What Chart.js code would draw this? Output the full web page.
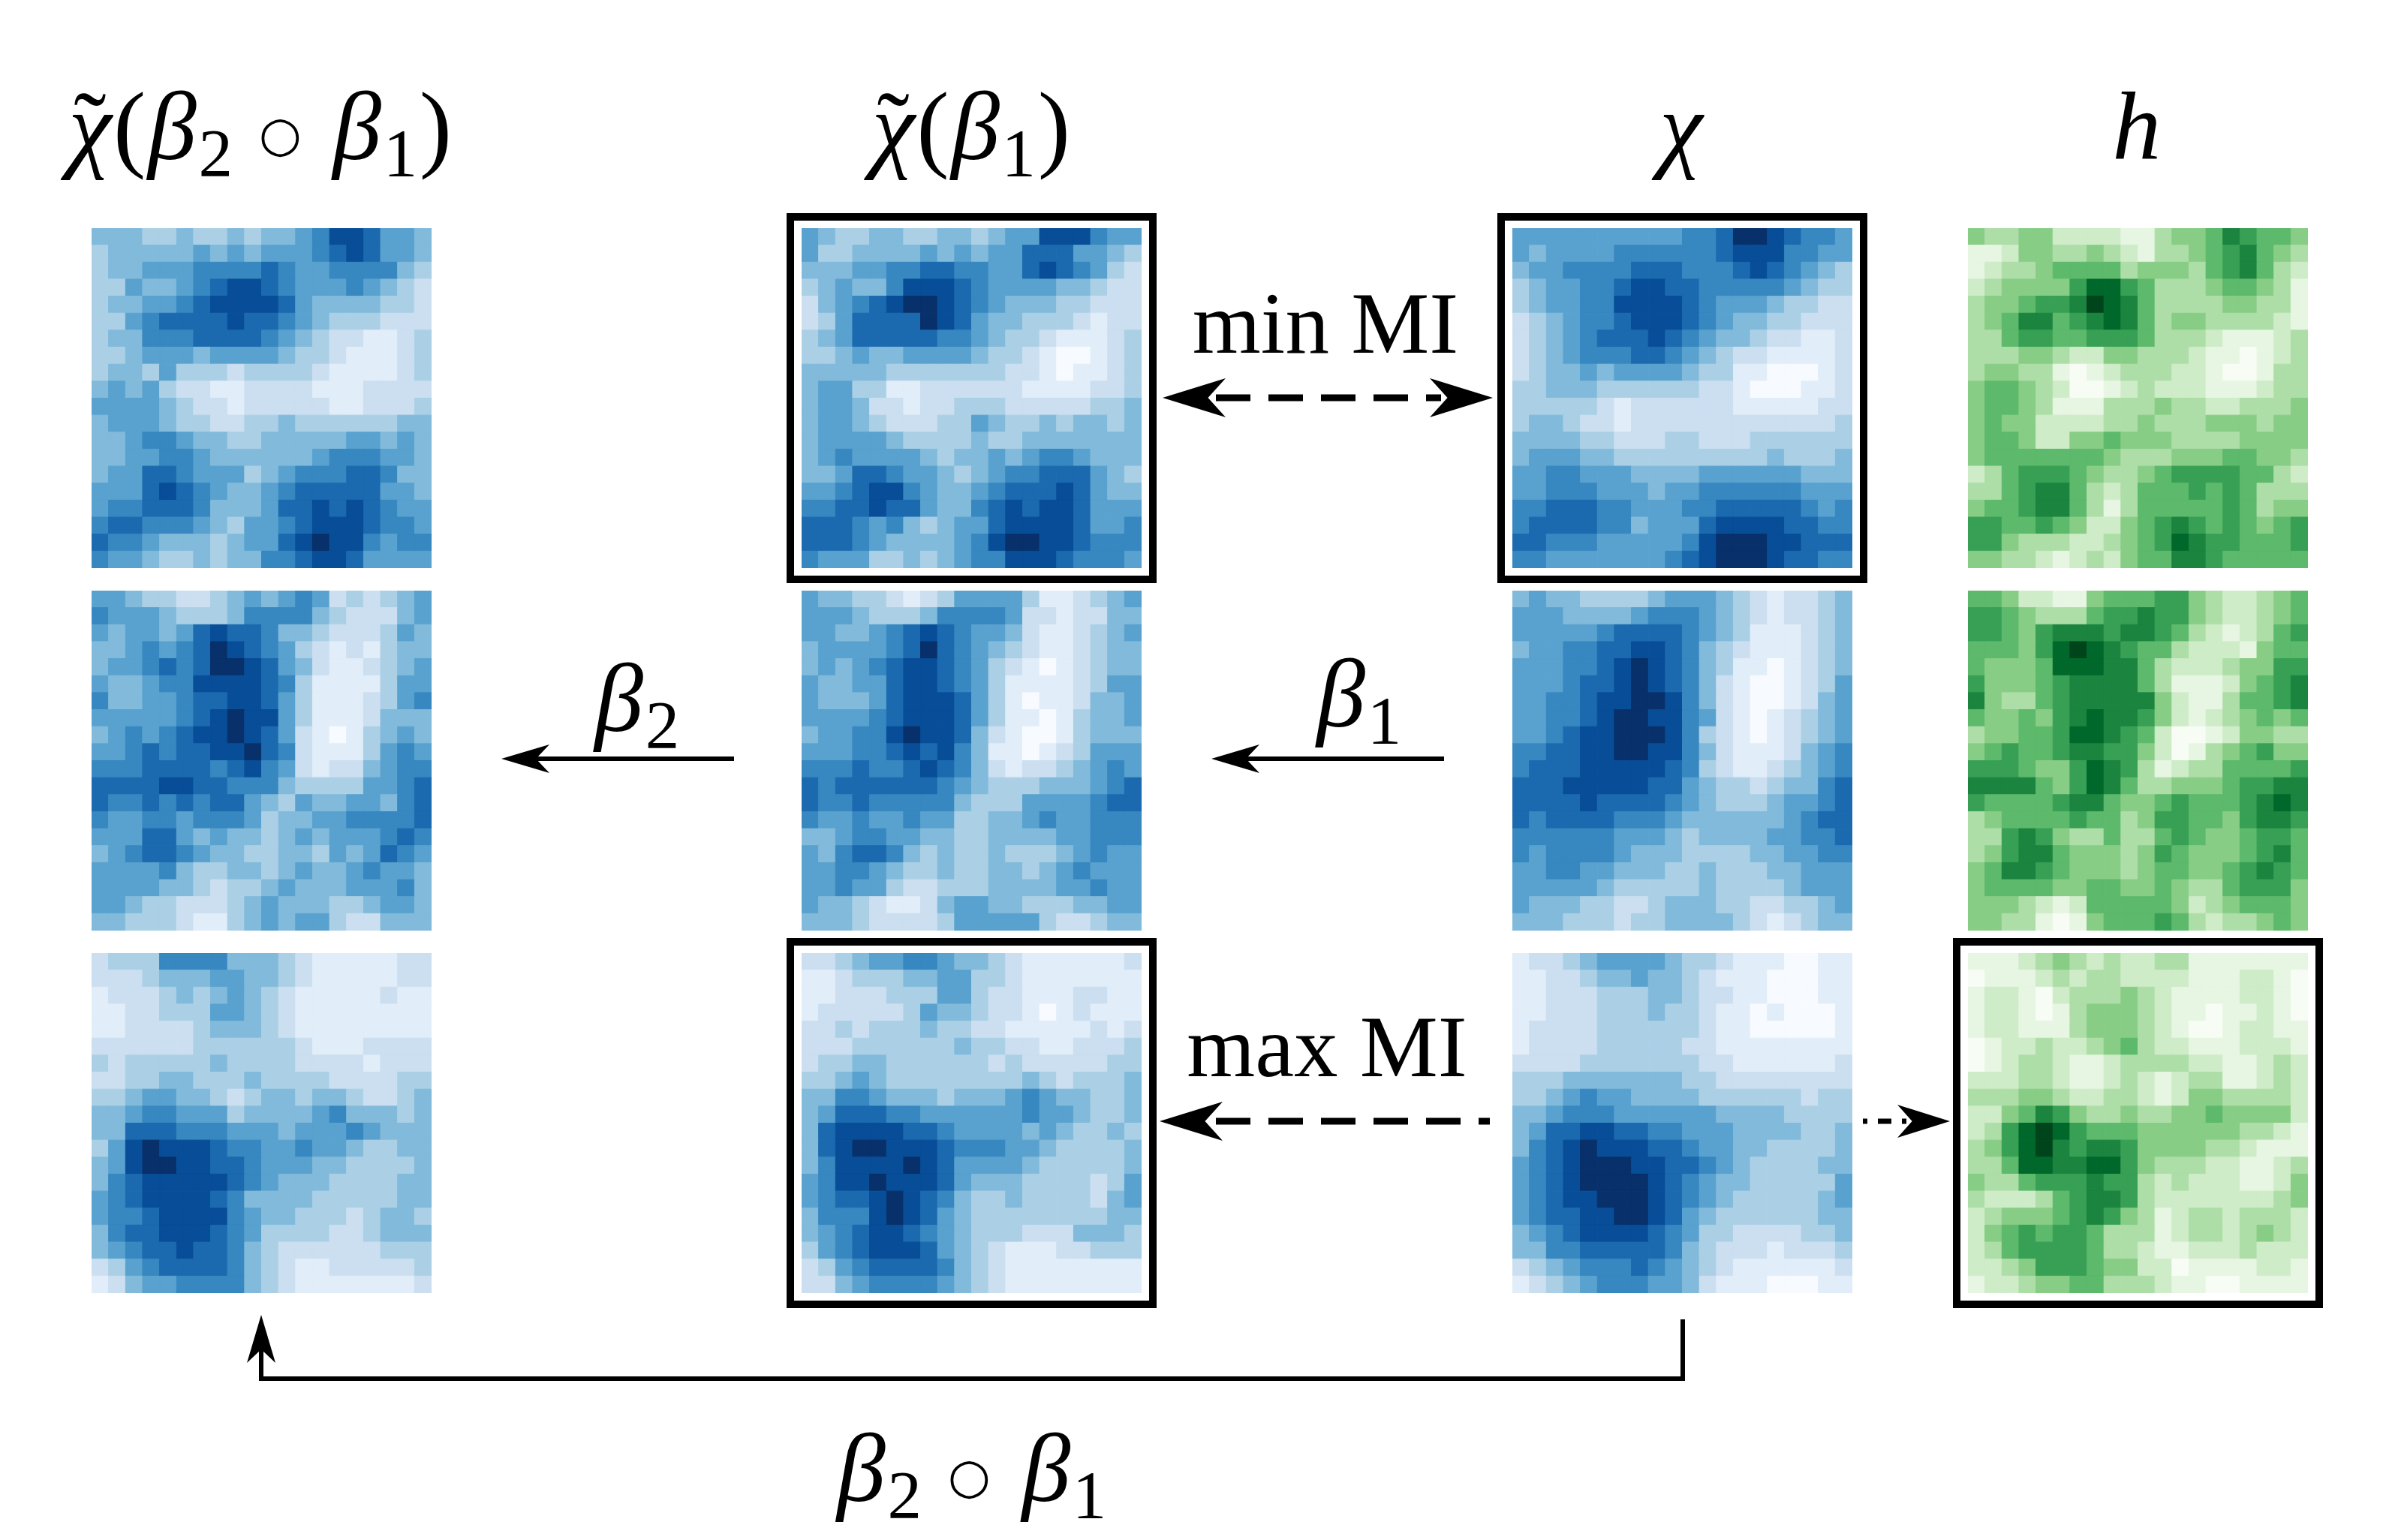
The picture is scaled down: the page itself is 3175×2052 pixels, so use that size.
<!DOCTYPE html>
<html>
<head>
<meta charset="utf-8">
<script src="https://cdn.jsdelivr.net/npm/chart.js@4/dist/chart.umd.min.js"></script>
<style>
  html, body { margin: 0; padding: 0; background: #fff; }
  #page { position: relative; width: 3175px; height: 2052px; overflow: hidden; background: #fff; }
  canvas { position: absolute; }
  .frame { position: absolute; box-sizing: border-box; border: 10px solid #000; width: 493px; height: 493px; }
  svg { position: absolute; left: 0; top: 0; }
  .label { position: absolute; transform: translateX(-50%); white-space: nowrap; line-height: 1; color: #000;
    font-family: "Liberation Serif", serif; font-size: 130px; letter-spacing: 0.02em; }
  .label i { font-style: italic; }
  .label sub { font-size: 0.7em; vertical-align: -0.25em; line-height: 0; font-style: normal; }
  .mi { font-size: 117px; letter-spacing: 0; }
  .tl { position: relative; display: inline-block; }
  .tl b { position: absolute; left: 0; right: 0; text-align: center; font-weight: normal; }
  .ring { font-family: "DejaVu Sans", sans-serif; font-size: 0.5em; vertical-align: 0.17em; margin: 0 0.6em 0 0.5em; }
</style>
</head>
<body>
<div id="page"></div>
<script>
// colour levels, 0 lightest to 9 darkest,
// on a 20x20 grid (the original panels are 40x40, so this is a coarser reading)
const gridSize = 20;

const chi2Top = [
[4,4,4,3,3,4,3,3,4,3,4,4,5,6,8,8,7,5,5,4],
[3,4,4,4,4,4,5,4,5,4,5,5,5,6,7,8,7,5,5,4],
[3,4,4,5,5,5,6,6,6,6,7,6,5,5,6,6,6,6,4,3],
[3,3,5,4,4,5,6,7,8,8,7,6,5,5,5,6,5,4,3,2],
[3,4,4,5,5,6,7,8,8,8,8,7,5,4,4,4,4,3,3,2],
[3,3,5,6,7,7,7,7,8,7,7,6,5,4,3,3,3,2,2,2],
[3,4,4,6,6,6,7,7,7,7,6,5,4,3,2,2,1,1,2,3],
[3,3,4,5,5,5,4,5,5,5,5,4,3,3,2,1,1,1,2,3],
[3,4,4,3,5,3,3,3,2,3,3,3,3,2,1,1,1,1,2,3],
[4,5,4,5,3,2,2,1,1,2,2,2,2,1,1,1,2,2,2,2],
[5,5,5,5,4,3,2,2,1,2,2,2,2,2,1,1,2,2,2,3],
[4,5,5,5,4,3,3,2,2,3,3,4,3,3,3,3,3,3,4,4],
[4,4,5,6,6,5,4,4,3,3,4,4,4,4,4,5,5,4,5,4],
[4,4,5,5,6,6,5,4,4,4,4,4,4,5,6,6,6,5,5,4],
[4,5,5,7,7,6,5,5,5,3,4,5,6,6,6,7,7,6,4,4],
[5,5,5,7,8,7,6,5,4,4,5,6,7,7,7,7,7,5,5,4],
[5,6,6,7,7,7,6,4,4,4,5,7,7,8,7,8,7,6,5,5],
[6,7,7,6,6,6,5,4,3,5,5,6,7,8,8,8,7,6,6,5],
[7,6,6,5,4,4,4,3,4,5,5,7,8,9,8,8,6,5,6,6],
[6,5,5,4,3,3,4,3,4,4,6,6,7,8,8,7,5,5,5,5]
];
const chi1Top = [
[5,4,3,3,4,4,3,3,4,4,3,4,5,5,8,8,8,6,5,5],
[5,3,3,4,4,4,4,5,4,5,4,5,5,7,7,7,5,5,4,3],
[4,4,4,5,5,6,6,7,7,6,6,5,5,7,8,7,6,5,3,2],
[3,4,5,4,4,6,8,8,8,7,6,5,5,5,5,4,4,3,2,2],
[2,4,5,6,7,8,9,9,8,7,6,5,4,4,4,3,3,2,2,2],
[2,3,5,7,7,7,7,9,8,7,5,4,4,3,3,3,2,1,2,2],
[3,4,5,7,7,7,7,7,6,6,5,4,3,3,2,1,1,1,2,3],
[3,3,4,5,4,4,5,5,5,5,4,3,3,2,1,0,0,1,2,3],
[4,4,4,4,4,3,3,3,3,3,3,3,2,2,1,0,1,1,2,3],
[4,5,5,3,3,1,1,2,2,2,2,2,2,1,1,1,1,2,2,3],
[4,5,5,4,2,2,1,2,2,3,3,3,2,2,2,2,2,3,3,4],
[4,5,5,4,3,2,2,2,3,3,5,4,3,3,4,3,4,4,3,4],
[4,5,5,5,5,4,3,3,3,3,4,3,3,4,4,4,4,4,4,4],
[4,5,6,5,5,5,5,4,3,4,4,5,4,5,6,6,5,4,4,4],
[4,4,5,7,7,6,5,5,4,3,4,5,6,6,7,7,7,5,4,3],
[5,5,6,7,8,8,6,5,4,4,5,6,7,7,7,8,7,5,4,4],
[6,6,7,7,8,7,7,5,4,4,6,7,8,7,8,8,7,5,5,5],
[7,7,7,6,5,6,4,3,4,5,5,7,8,8,8,8,7,5,5,6],
[7,7,7,6,5,4,4,4,4,5,6,8,9,9,8,8,7,6,6,6],
[6,5,5,5,3,3,4,3,4,5,6,6,8,8,8,7,6,6,6,5]
];
const chiTop = [
[5,5,5,5,5,5,5,5,5,5,6,6,7,9,9,8,7,6,6,5],
[5,4,5,5,5,5,6,6,6,6,6,6,7,8,8,8,6,6,5,5],
[4,5,5,6,6,6,6,7,7,7,6,6,6,7,8,7,6,5,4,3],
[3,4,5,5,6,6,7,8,8,7,7,6,6,6,6,6,5,4,3,3],
[3,4,5,5,6,6,8,8,8,8,7,6,5,5,5,4,3,3,2,2],
[2,3,4,5,6,6,7,8,8,8,7,6,5,4,4,3,3,2,2,2],
[2,3,4,5,6,7,7,7,8,7,6,5,4,4,3,2,2,1,1,2],
[2,3,4,5,6,6,6,7,7,6,5,4,3,2,2,1,1,1,1,2],
[2,3,4,4,5,4,5,5,5,5,4,3,3,1,1,0,0,0,1,2],
[3,3,4,4,4,3,3,3,3,3,3,2,2,1,0,0,0,1,1,2],
[3,3,3,3,3,2,1,2,2,2,2,2,2,1,1,1,1,1,2,2],
[3,4,4,3,2,2,1,2,2,2,2,2,2,2,2,2,2,2,2,3],
[4,4,4,4,3,3,2,2,2,3,3,2,2,2,3,3,3,3,3,3],
[4,5,5,5,4,4,3,3,3,3,3,3,3,3,3,4,3,3,3,4],
[5,5,6,6,5,5,5,4,4,4,4,5,5,5,5,5,5,4,4,4],
[5,5,6,6,6,5,5,5,4,5,5,6,6,6,6,6,6,5,5,5],
[6,6,7,7,7,6,6,5,5,5,6,6,7,7,7,7,7,6,5,6],
[6,7,7,7,7,6,6,4,5,5,5,7,8,8,8,8,7,7,6,6],
[7,7,6,6,6,5,5,5,5,5,6,8,9,9,9,8,8,7,7,7],
[6,6,5,5,5,5,5,5,5,6,7,8,9,9,9,8,7,7,6,6]
];
const hTop = [
[4,3,3,4,4,2,2,2,2,1,1,3,4,4,5,7,6,5,5,4],
[1,1,2,4,4,3,3,4,3,2,1,3,3,4,5,6,7,5,4,3],
[1,2,3,3,4,5,5,5,5,3,4,4,4,3,5,6,7,5,3,2],
[2,3,4,4,4,4,6,8,8,6,5,3,3,3,4,5,5,4,3,1],
[3,4,4,5,6,6,7,9,8,7,5,3,3,3,3,4,4,3,3,1],
[3,4,5,7,7,5,6,7,8,7,5,3,4,4,3,3,3,3,2,1],
[3,3,5,6,6,5,5,6,6,6,5,3,3,3,2,1,1,1,2,3],
[3,3,3,4,4,3,2,2,4,4,3,3,3,2,1,1,0,1,2,3],
[3,4,4,3,3,1,0,1,2,3,3,3,2,2,1,0,0,1,3,3],
[4,5,5,4,3,2,0,0,1,2,3,2,2,2,1,1,1,2,3,3],
[4,5,5,4,3,1,1,1,3,3,3,4,3,3,2,2,3,3,3,4],
[4,5,4,4,2,2,2,2,3,3,4,3,3,3,4,4,4,3,4,4],
[4,5,5,4,2,2,4,4,5,4,4,4,3,3,3,3,4,4,4,4],
[4,5,5,5,5,5,5,5,4,3,3,3,4,4,4,5,5,4,4,3],
[2,3,5,6,6,6,5,4,3,3,4,5,6,6,6,6,5,5,3,2],
[3,3,5,6,7,7,5,3,2,3,5,5,5,6,5,6,5,3,3,3],
[4,5,5,6,7,7,5,3,1,3,5,5,5,5,5,6,5,3,4,4],
[6,6,5,5,6,5,4,2,2,4,5,6,7,6,5,6,5,4,5,6],
[6,6,4,3,3,3,2,2,3,4,5,6,8,7,6,6,5,5,5,6],
[4,4,3,3,2,1,2,3,2,4,5,5,7,7,6,5,5,5,5,5]
];
const chi2Mid = [
[5,5,4,3,3,2,2,3,4,5,4,5,6,5,2,3,2,3,4,5],
[6,5,5,5,4,3,3,3,4,6,6,6,6,4,3,2,2,2,4,5],
[5,4,5,5,4,5,7,8,7,7,6,4,4,3,2,2,2,3,5,4],
[4,4,5,6,5,6,7,9,8,7,6,5,3,2,1,2,1,3,4,4],
[4,5,5,6,7,6,7,9,9,8,7,5,4,2,1,1,2,3,4,5],
[5,4,4,5,6,6,8,8,8,8,7,6,3,1,1,1,1,3,5,5],
[6,4,4,5,5,6,7,7,8,8,7,5,3,1,1,1,2,3,5,6],
[5,5,5,5,5,6,7,8,9,8,8,5,3,1,1,1,2,4,4,4],
[4,5,6,5,6,7,8,8,9,8,7,5,2,1,0,1,3,4,5,4],
[5,5,6,7,6,7,7,8,8,9,7,6,2,1,1,1,3,5,6,5],
[6,6,6,7,7,7,7,6,7,8,6,5,2,1,2,2,4,5,6,6],
[7,7,7,7,8,8,7,7,6,6,6,4,3,3,3,3,5,5,6,7],
[7,6,6,7,6,7,6,7,7,5,4,3,5,4,4,5,5,4,6,7],
[6,5,5,6,6,5,6,6,6,5,3,4,4,5,5,6,6,6,6,7],
[5,5,5,7,7,5,4,5,4,4,3,4,5,4,5,5,5,6,7,6],
[4,5,6,7,7,6,5,4,4,3,3,4,4,3,5,4,5,7,6,5],
[5,5,5,5,6,4,3,3,4,4,3,4,5,4,4,5,6,5,5,4],
[5,5,5,5,4,4,3,2,3,3,4,5,4,4,4,5,5,5,6,4],
[5,5,4,3,3,2,2,2,3,4,5,4,4,4,3,3,4,5,5,4],
[4,4,3,3,3,2,1,1,3,4,5,4,5,5,3,2,2,4,4,4]
];
const chi1Mid = [
[5,4,4,3,3,2,1,2,3,5,5,5,5,3,1,1,2,3,4,5],
[5,5,5,4,3,3,3,4,6,6,6,6,5,2,2,1,2,2,4,4],
[5,5,4,4,5,6,7,8,7,6,5,5,4,2,1,1,2,3,4,5],
[4,5,5,5,5,6,7,9,7,6,5,4,3,2,1,1,2,3,4,4],
[4,5,4,5,6,7,8,8,7,6,5,3,2,1,0,1,2,3,4,4],
[5,4,4,5,5,7,8,8,7,6,5,3,1,1,1,1,2,3,5,5],
[5,4,4,4,5,7,8,8,8,7,5,3,1,0,1,1,2,4,4,5],
[5,5,5,5,6,7,8,8,8,7,5,3,1,1,0,1,3,4,4,5],
[4,5,5,6,6,8,9,8,8,7,4,2,1,0,0,1,3,4,4,4],
[5,5,5,6,6,7,8,7,8,6,4,1,1,0,1,2,3,5,5,5],
[6,6,6,7,6,6,7,8,7,6,4,2,1,2,2,3,4,5,6,5],
[7,6,7,7,7,7,7,7,6,5,4,3,3,3,4,4,4,5,6,7],
[7,6,6,7,6,6,6,6,6,4,3,3,3,5,5,5,5,6,7,7],
[6,5,5,6,5,5,6,5,5,3,3,4,4,5,6,5,5,6,6,6],
[4,4,5,6,6,5,5,4,4,3,3,4,4,4,4,5,5,6,6,6],
[5,4,6,7,7,6,4,3,4,3,3,4,3,3,3,4,5,6,5,5],
[5,5,6,6,5,4,3,3,4,3,3,4,4,3,4,5,6,5,5,5],
[5,5,6,5,5,3,2,2,3,3,3,4,4,4,4,5,5,6,5,5],
[5,4,4,3,2,1,1,2,4,5,5,4,4,3,3,3,4,4,5,5],
[4,4,4,3,2,2,2,2,3,5,5,5,5,5,3,2,2,3,4,4]
];
const chiMid = [
[4,5,4,4,3,3,3,3,4,5,5,5,4,3,2,1,2,2,3,4],
[5,5,5,4,4,4,4,5,6,6,6,5,4,3,2,1,2,2,3,4],
[5,5,5,5,5,6,7,7,7,7,6,5,4,3,1,1,1,2,3,4],
[4,5,5,6,6,7,7,8,8,7,6,4,3,2,1,1,1,2,3,4],
[5,5,5,6,6,7,8,9,8,7,6,4,3,1,1,0,1,2,3,4],
[5,5,5,6,7,7,8,9,8,7,6,4,2,1,0,0,1,2,3,5],
[5,5,6,6,7,8,8,9,9,8,6,4,2,1,0,0,1,2,4,5],
[5,5,6,6,7,8,9,9,8,8,6,5,2,1,0,1,2,3,4,5],
[5,5,6,7,8,8,9,9,9,8,6,3,2,1,0,1,2,3,4,5],
[6,6,7,7,8,8,9,9,8,8,6,4,2,1,1,1,2,4,5,6],
[6,7,7,7,8,8,8,8,8,7,6,3,2,1,1,2,3,4,5,6],
[7,7,7,8,8,8,8,8,7,7,5,4,3,3,2,3,4,4,6,7],
[7,7,7,7,8,7,7,7,7,6,5,4,3,3,3,4,5,5,6,7],
[7,6,7,7,7,7,6,6,6,5,4,4,4,4,4,4,5,6,7,7],
[6,6,6,6,6,6,5,5,5,4,3,4,4,4,4,5,5,6,6,7],
[6,5,6,6,6,6,5,4,4,4,3,3,3,3,4,4,5,5,6,6],
[5,5,6,6,5,5,4,4,4,3,3,4,3,3,3,4,4,5,5,5],
[5,5,5,5,5,4,3,3,3,3,3,4,3,3,3,3,4,5,5,5],
[5,4,4,4,3,3,2,2,3,4,4,4,3,3,2,2,3,3,4,5],
[4,4,4,3,3,3,2,3,3,4,4,4,4,3,2,1,2,3,4,4]
];
const hMid = [
[5,5,4,2,2,1,1,4,5,5,5,6,6,4,3,2,2,3,4,5],
[6,6,5,4,3,3,3,5,6,6,7,6,6,4,3,2,2,3,4,5],
[6,6,5,4,6,7,7,7,6,7,7,6,5,3,2,1,2,3,5,6],
[5,5,5,4,6,8,9,8,7,6,5,5,3,2,2,2,1,4,5,5],
[5,4,4,4,5,8,8,8,7,7,5,3,2,2,2,3,4,4,6,6],
[6,4,4,4,5,6,7,7,7,7,5,3,1,1,1,2,4,5,6,7],
[7,4,3,3,5,6,7,7,7,7,7,4,2,1,1,3,5,5,6,7],
[5,4,4,5,4,6,7,8,7,7,6,4,2,1,2,3,4,5,4,5],
[3,4,4,5,5,6,8,8,7,6,5,2,0,0,1,2,4,4,3,3],
[4,5,6,5,5,6,7,7,6,6,4,2,0,1,3,4,5,6,4,4],
[6,6,6,5,4,4,6,8,7,6,3,1,2,3,3,5,5,5,5,6],
[7,7,7,7,5,4,6,8,7,5,3,3,4,4,4,5,6,6,7,7],
[6,5,5,5,5,6,7,7,5,4,4,5,6,5,5,5,6,7,8,7],
[3,4,5,5,5,5,6,5,5,3,4,6,6,5,5,4,6,7,7,6],
[3,3,6,7,6,4,3,3,5,3,3,5,6,5,4,4,5,6,6,5],
[3,4,6,7,7,5,4,4,4,3,4,6,5,4,4,4,5,6,7,5],
[4,5,7,7,6,5,4,4,4,3,4,5,5,4,4,5,6,7,6,5],
[4,5,5,5,5,4,4,5,5,4,4,5,4,3,3,5,6,6,6,4],
[4,4,4,3,2,1,2,5,5,5,5,5,4,2,3,4,5,5,5,4],
[4,4,3,3,1,0,1,4,5,5,5,6,5,3,2,3,3,4,5,4]
];
const chi2Low = [
[2,3,3,3,6,6,6,6,4,4,4,3,2,1,1,1,1,1,2,2],
[2,2,2,3,4,4,4,5,5,4,4,3,2,1,1,1,1,1,2,2],
[1,2,2,2,3,4,3,4,5,4,3,2,1,1,1,1,1,2,1,1],
[1,1,2,2,3,3,3,5,5,4,3,2,1,1,1,1,1,1,1,1],
[1,1,2,2,2,2,3,4,4,4,3,2,1,1,1,1,1,1,1,1],
[2,2,2,2,2,2,3,3,3,3,3,3,2,1,1,1,2,2,2,2],
[3,2,3,3,3,3,3,4,3,3,3,3,2,2,2,2,1,2,2,2],
[2,2,3,3,4,4,3,3,3,4,3,3,3,3,2,2,2,2,3,3],
[3,3,4,5,5,4,4,3,2,3,4,4,3,4,4,3,2,2,3,4],
[4,4,5,6,6,5,5,5,3,4,4,4,4,5,6,4,4,4,3,4],
[4,4,7,7,7,6,6,6,5,5,5,4,5,5,5,6,5,4,4,4],
[3,5,8,9,8,8,8,7,6,6,5,5,6,5,5,4,3,3,4,4],
[4,5,8,9,9,8,8,7,7,6,5,5,5,4,4,3,3,3,3,4],
[4,6,7,8,8,8,8,8,7,6,5,4,4,4,3,3,3,3,4,4],
[5,6,7,8,8,8,8,7,6,4,4,4,4,3,3,3,3,3,4,4],
[5,6,6,7,8,8,8,8,6,5,4,4,3,3,3,2,3,4,4,3],
[4,6,7,7,8,8,8,7,6,5,3,3,3,3,2,2,3,4,4,4],
[4,5,6,7,7,8,7,7,6,4,3,2,2,2,2,2,2,3,3,3],
[2,3,5,6,7,7,7,7,6,4,3,2,1,1,2,2,2,2,2,3],
[1,2,4,5,5,6,6,6,6,4,3,2,1,1,1,1,1,1,1,2]
];
const chi1Low = [
[2,2,3,4,5,5,6,6,5,4,4,3,2,1,1,1,1,1,1,2],
[1,1,2,3,3,3,4,4,5,5,3,3,2,1,1,1,1,1,1,1],
[1,1,2,2,2,3,3,3,5,5,3,2,2,1,1,1,2,2,1,1],
[1,2,2,2,2,2,3,5,4,4,3,2,2,1,0,1,2,1,1,1],
[2,2,3,2,3,3,3,4,3,3,2,2,1,1,1,1,1,2,1,2],
[2,2,2,3,3,3,3,3,3,4,3,3,2,2,1,1,2,2,2,3],
[2,3,3,4,4,3,3,3,3,3,3,2,3,2,2,2,2,2,3,3],
[3,3,4,5,4,3,3,3,3,3,3,3,3,4,3,2,3,3,3,4],
[4,4,6,6,5,4,4,4,3,4,4,4,5,6,5,4,4,3,3,4],
[4,5,7,7,7,6,6,5,5,5,5,5,5,6,5,5,4,3,3,4],
[4,7,8,8,8,8,7,7,6,5,5,5,5,4,5,4,3,3,4,3],
[4,7,8,9,9,8,8,8,7,6,6,6,5,5,4,3,3,3,3,4],
[4,6,8,8,8,8,9,8,7,5,5,5,5,4,3,3,3,3,3,4],
[5,6,8,8,9,8,8,8,7,5,4,4,4,3,3,3,3,2,3,5],
[5,6,7,7,8,9,8,7,6,4,3,3,4,3,3,3,3,2,4,5],
[4,6,6,6,8,9,8,7,5,4,3,3,3,3,3,3,3,3,4,4],
[4,5,6,7,8,8,7,6,5,4,3,3,3,2,2,2,4,4,4,3],
[3,5,6,7,8,8,8,7,5,4,3,2,1,1,1,2,2,3,3,3],
[2,3,5,6,7,7,7,7,6,4,3,2,1,1,1,1,1,1,1,1],
[2,2,4,5,6,6,6,6,5,4,3,2,1,1,1,1,1,1,1,1]
];
const chiLow = [
[1,2,2,3,4,5,5,5,5,4,3,3,2,1,1,1,0,0,1,1],
[1,1,2,2,3,4,4,5,4,4,3,2,1,1,1,0,0,0,1,1],
[1,1,2,2,2,3,3,3,4,4,3,2,2,1,1,0,0,0,1,1],
[1,1,2,2,2,3,3,3,4,3,3,2,1,1,0,1,0,0,0,1],
[1,2,2,2,2,3,3,3,3,3,3,2,1,1,0,0,0,0,0,1],
[1,2,2,2,2,3,3,3,3,3,2,2,1,1,1,1,1,1,1,1],
[2,2,2,2,3,3,3,3,3,3,3,2,2,1,1,1,1,1,1,2],
[3,3,3,4,4,4,4,4,4,4,3,3,2,2,2,2,2,2,2,2],
[3,3,4,5,6,5,5,4,4,4,4,3,3,3,3,3,3,2,3,3],
[4,4,5,6,6,6,5,5,5,5,5,5,4,4,4,4,3,3,3,3],
[4,5,7,7,8,8,7,7,6,6,5,5,5,4,4,4,4,3,3,4],
[4,6,7,8,9,8,8,8,7,7,6,5,5,4,4,3,3,3,3,4],
[5,6,7,8,9,9,9,8,8,7,7,6,5,4,3,3,3,3,4,4],
[5,6,7,8,9,9,9,9,8,7,6,5,4,4,3,3,3,3,3,5],
[5,6,7,8,8,9,9,9,8,7,6,5,4,3,3,3,3,3,4,5],
[5,6,7,7,8,8,9,9,8,7,5,4,3,3,3,3,3,3,4,4],
[4,5,6,7,8,8,8,8,7,6,5,3,3,2,2,2,2,3,3,4],
[4,4,6,6,7,7,7,7,7,6,4,3,2,2,2,1,2,2,2,3],
[2,3,4,5,6,6,6,7,6,5,4,3,2,1,1,1,1,1,1,2],
[1,2,3,4,5,6,6,6,5,5,4,2,1,1,1,0,0,0,1,1]
];
const hLow = [
[1,1,1,2,3,4,3,2,3,2,2,3,3,1,1,1,1,1,1,1],
[0,1,1,1,2,3,2,3,3,2,2,2,2,1,1,1,2,2,1,0],
[1,2,2,1,0,2,3,3,3,4,3,2,1,1,1,1,2,2,1,0],
[1,2,2,1,0,1,3,4,4,4,3,2,1,1,0,1,1,2,1,0],
[1,2,2,1,1,1,3,4,4,4,3,2,1,0,0,1,2,2,1,1],
[0,1,2,2,3,2,2,3,4,5,3,2,2,1,1,1,2,2,2,1],
[0,1,2,3,3,2,1,1,2,3,3,3,3,2,2,1,1,2,3,2],
[2,2,2,3,3,2,1,1,2,3,2,1,2,3,3,1,1,2,3,2],
[3,3,3,4,4,3,2,2,3,3,2,1,2,4,4,3,3,3,3,2],
[2,2,4,5,7,6,4,3,3,4,3,3,4,4,5,4,4,4,4,2],
[2,3,6,8,9,8,6,5,5,5,4,4,4,4,4,4,3,3,2,1],
[3,4,6,8,9,7,6,7,7,6,4,4,4,4,3,3,2,1,1,1],
[3,3,5,8,8,7,7,8,8,6,4,3,3,3,2,2,1,1,2,3],
[4,3,3,5,6,6,6,7,6,6,3,2,3,2,2,2,1,1,2,4],
[3,2,2,2,3,5,6,7,7,6,3,2,2,2,2,2,2,2,3,4],
[2,3,4,4,4,5,6,7,6,4,3,1,2,3,3,2,3,3,3,2],
[2,4,5,6,5,6,6,5,3,3,3,1,2,3,3,2,3,4,3,2],
[2,3,5,6,6,6,6,5,3,3,2,1,1,2,2,2,3,2,2,2],
[2,2,3,4,6,6,6,5,4,4,2,2,0,1,1,1,1,2,2,1],
[1,2,2,3,4,4,5,5,3,3,3,2,1,1,0,0,1,1,1,1]
];

const blues = ['#f7fbff', '#deebf7', '#c6dbef', '#9ecae1', '#6baed6', '#4292c6', '#2171b5', '#08519c', '#08306b'];
const greens = ['#f7fcf5', '#e5f5e0', '#c7e9c0', '#a1d99b', '#74c476', '#41ab5d', '#238b45', '#006d2c', '#00441b'];

const page = document.getElementById('page');
const panelSize = 453;
const colX = [122, 1068, 2015, 2622];
const rowY = [304, 787, 1270];

// same colour ramps as matplotlib, level 0..9 mapped on to them
function levelColor(stops, level) {
  const t = level / 9 * (stops.length - 1);
  const i = Math.min(Math.floor(t), stops.length - 2);
  const f = t - i;
  const a = parseInt(stops[i].slice(1), 16);
  const b = parseInt(stops[i + 1].slice(1), 16);
  const mix = (shift) => Math.round(((a >> shift) & 255) * (1 - f) + ((b >> shift) & 255) * f);
  return `rgb(${mix(16)},${mix(8)},${mix(0)})`;
}

function addHeatmap(grid, stops, x, y) {
  const canvas = document.createElement('canvas');
  canvas.width = panelSize;
  canvas.height = panelSize;
  canvas.style.left = x + 'px';
  canvas.style.top = y + 'px';
  canvas.style.width = panelSize + 'px';
  canvas.style.height = panelSize + 'px';
  page.appendChild(canvas);

  const cells = [];
  grid.forEach((row, r) => row.forEach((v, c) => cells.push({ x: c, y: r, v: v })));

  new Chart(canvas, {
    type: 'scatter',
    data: {
      datasets: [{
        data: cells,
        pointStyle: 'rect',
        pointRadius: (ctx) => ctx.chart.scales.x.width / gridSize / Math.SQRT2,
        pointBackgroundColor: (ctx) => levelColor(stops, ctx.raw.v),
        pointBorderColor: (ctx) => levelColor(stops, ctx.raw.v),
        pointBorderWidth: 1,
      }],
    },
    options: {
      responsive: false,
      animation: false,
      devicePixelRatio: 1,
      layout: { padding: 0 },
      plugins: { legend: { display: false }, tooltip: { enabled: false } },
      scales: {
        x: { type: 'linear', min: -0.5, max: gridSize - 0.5, display: false },
        y: { type: 'linear', min: -0.5, max: gridSize - 0.5, reverse: true, display: false },
      },
    },
  });
}

const panels = [
  [chi2Top, blues, 0, 0], [chi1Top, blues, 1, 0], [chiTop, blues, 2, 0], [hTop, greens, 3, 0],
  [chi2Mid, blues, 0, 1], [chi1Mid, blues, 1, 1], [chiMid, blues, 2, 1], [hMid, greens, 3, 1],
  [chi2Low, blues, 0, 2], [chi1Low, blues, 1, 2], [chiLow, blues, 2, 2], [hLow, greens, 3, 2],
];
panels.forEach(([grid, stops, c, r]) => addHeatmap(grid, stops, colX[c], rowY[r]));

// black boxes round the picked panels
[[1, 0], [2, 0], [1, 2], [3, 2]].forEach(([c, r]) => {
  const box = document.createElement('div');
  box.className = 'frame';
  box.style.left = (colX[c] - 20) + 'px';
  box.style.top = (rowY[r] - 20) + 'px';
  page.appendChild(box);
});

// arrows
const svgNS = 'http://www.w3.org/2000/svg';
const svg = document.createElementNS(svgNS, 'svg');
svg.setAttribute('width', 3175);
svg.setAttribute('height', 2052);
page.appendChild(svg);

function line(pts, width, dash) {
  const el = document.createElementNS(svgNS, 'polyline');
  el.setAttribute('points', pts.map((p) => p.join(',')).join(' '));
  el.setAttribute('fill', 'none');
  el.setAttribute('stroke', '#000');
  el.setAttribute('stroke-width', width);
  if (dash) el.setAttribute('stroke-dasharray', dash);
  svg.appendChild(el);
}

// stealth head with its tip at (x, y), pointing along (dx, dy)
function head(x, y, dx, dy, len, half) {
  const px = -dy;
  const py = dx;
  const pts = [
    [x, y],
    [x - dx * len + px * half, y - dy * len + py * half],
    [x - dx * len * 0.72, y - dy * len * 0.72],
    [x - dx * len - px * half, y - dy * len - py * half],
  ];
  const el = document.createElementNS(svgNS, 'polygon');
  el.setAttribute('points', pts.map((p) => p.join(',')).join(' '));
  el.setAttribute('fill', '#000');
  svg.appendChild(el);
}

line([[1620, 530], [1920, 530]], 9, '46 24');
head(1549, 530, -1, 0, 84, 26);
head(1989, 530, 1, 0, 84, 26);

line([[1620, 1494], [1985, 1494]], 9, '46 24');
head(1545, 1494, -1, 0, 84, 26);

line([[2482, 1494], [2540, 1494]], 7, '6 14 18 14');
head(2598, 1494, 1, 0, 70, 22);

line([[978, 1011], [700, 1011]], 6);
head(668, 1011, -1, 0, 64, 19);

line([[1924, 1011], [1640, 1011]], 6);
head(1614, 1011, -1, 0, 64, 19);

line([[2242, 1758], [2242, 1837], [348, 1837], [348, 1790]], 6);
head(348, 1752, 0, -1, 64, 19);

// texts
const ring = '<span class="ring">○</span>';
const beta1 = '<i>β</i><sub>1</sub>';
const beta2 = '<i>β</i><sub>2</sub>';
const chiTilde = '<span class="tl"><i>χ</i><b>˜</b></span>';

function addLabel(html, x, y, cls) {
  const el = document.createElement('div');
  el.className = 'label' + (cls ? ' ' + cls : '');
  el.innerHTML = html;
  el.style.left = x + 'px';
  el.style.top = y + 'px';
  page.appendChild(el);
}

addLabel(chiTilde + '(' + beta2 + ring + beta1 + ')', 348, 103);
addLabel(chiTilde + '(' + beta1 + ')', 1295, 103);
addLabel('<i>χ</i>', 2241, 103);
addLabel('<i>h</i>', 2848, 103);
addLabel('min MI', 1766, 372, 'mi');
addLabel('max MI', 1768, 1336, 'mi');
addLabel(beta2, 850, 865);
addLabel(beta1, 1812, 859);
addLabel(beta2 + ring + beta1, 1296, 1891);
</script>
</body>
</html>
